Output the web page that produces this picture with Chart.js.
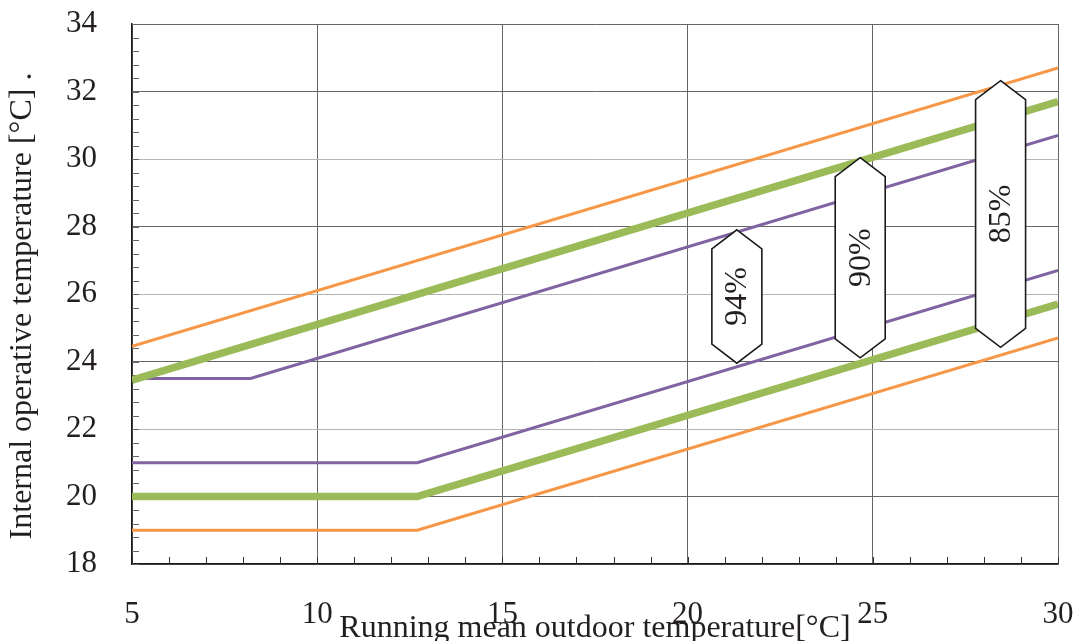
<!DOCTYPE html>
<html><head><meta charset="utf-8">
<script src="https://cdn.jsdelivr.net/npm/chart.js@4"></script>
<style>html,body{margin:0;padding:0;background:#fff}#wrap{width:1074px;height:641px;position:relative}</style>
</head><body><div id="wrap"><canvas id="c"></canvas></div>
<script>
// Data
const catIIIUpperX = [5, 30];        const catIIIUpperY = [24.45, 32.7];
const catIIUpperX  = [5, 30];        const catIIUpperY  = [23.45, 31.7];
const catIUpperX   = [5, 8.2, 30];   const catIUpperY   = [23.5, 23.5, 30.7];
const catILowerX   = [5, 12.7, 30];  const catILowerY   = [21, 21, 26.7];
const catIILowerX  = [5, 12.7, 30];  const catIILowerY  = [20, 20, 25.7];
const catIIILowerX = [5, 12.7, 30];  const catIIILowerY = [19, 19, 24.7];

const arrowLabels = ['94%', '90%', '85%'];
const arrowX    = [21.33, 24.66, 28.45];
const arrowLow  = [23.95, 24.11, 24.42];
const arrowHigh = [27.9, 30.04, 32.32];

const xTickValues = [5, 10, 15, 20, 25, 30];
const yTickValues = [18, 20, 22, 24, 26, 28, 30, 32, 34];

const xTitle = 'Running mean outdoor temperature[°C]';
const yTitle = 'Internal operative temperature [°C] .';

const pts = (xs, ys) => xs.map((v, i) => ({x: v, y: ys[i]}));
const FONT = "'Liberation Serif', 'Times New Roman', serif";
const ORANGE = '#F79646', GREEN = '#9BBB59', PURPLE = '#8064A2';

const ds = (data, color, w) => ({data, borderColor: color, borderWidth: w, pointRadius: 0, fill: false, tension: 0, showLine: true, borderCapStyle: 'butt', borderJoinStyle: 'miter'});

const noPad = s => { s.paddingTop = 0; s.paddingBottom = 0; s.paddingLeft = 0; s.paddingRight = 0; };

const minorTicks = {
  id: 'minorTicks',
  beforeDatasetsDraw(chart) {
    const {ctx, chartArea: a, scales: {x, y}} = chart;
    ctx.save();
    ctx.lineWidth = 1;
    ctx.strokeStyle = '#666';
    for (let v = 18; v <= 34.001; v += 0.4) {
      const py = Math.round(y.getPixelForValue(v)) + 0.5;
      ctx.beginPath(); ctx.moveTo(a.left, py); ctx.lineTo(a.left + 7, py); ctx.stroke();
    }
    ctx.strokeStyle = '#333';
    for (let v = 5; v <= 30.001; v += 1) {
      const px = Math.round(x.getPixelForValue(v)) + 0.5;
      ctx.beginPath(); ctx.moveTo(px, a.bottom); ctx.lineTo(px, a.bottom - 7); ctx.stroke();
    }
    ctx.restore();
  }
};

const arrows = {
  id: 'arrows',
  afterDatasetsDraw(chart) {
    const {ctx, scales: {x, y}} = chart;
    ctx.save();
    const hw = 25, hh = 19;
    arrowLabels.forEach((lab, i) => {
      const cx = x.getPixelForValue(arrowX[i]);
      const top = y.getPixelForValue(arrowHigh[i]);
      const bot = y.getPixelForValue(arrowLow[i]);
      ctx.beginPath();
      ctx.moveTo(cx, top);
      ctx.lineTo(cx + hw, top + hh);
      ctx.lineTo(cx + hw, bot - hh);
      ctx.lineTo(cx, bot);
      ctx.lineTo(cx - hw, bot - hh);
      ctx.lineTo(cx - hw, top + hh);
      ctx.closePath();
      ctx.fillStyle = '#fff';
      ctx.fill();
      ctx.lineWidth = 1.6;
      ctx.strokeStyle = '#1a1a1a';
      ctx.lineJoin = 'miter';
      ctx.stroke();
      ctx.save();
      ctx.translate(cx, (top + bot) / 2);
      ctx.rotate(-Math.PI / 2);
      ctx.fillStyle = '#231f20';
      ctx.font = '32px ' + FONT;
      ctx.textAlign = 'center';
      ctx.textBaseline = 'middle';
      ctx.fillText(lab, 0, 1);
      ctx.restore();
    });
    ctx.restore();
  }
};

new Chart(document.getElementById('c'), {
  type: 'scatter',
  data: {
    datasets: [
      ds(pts(catIIIUpperX, catIIIUpperY), ORANGE, 3),
      ds(pts(catIIUpperX, catIIUpperY), GREEN, 7.5),
      ds(pts(catIUpperX, catIUpperY), PURPLE, 3),
      ds(pts(catILowerX, catILowerY), PURPLE, 3),
      ds(pts(catIILowerX, catIILowerY), GREEN, 7.5),
      ds(pts(catIIILowerX, catIIILowerY), ORANGE, 3)
    ]
  },
  options: {
    responsive: true,
    maintainAspectRatio: false,
    animation: false,
    layout: {padding: {top: 24, right: 16, left: 0, bottom: 0}},
    plugins: {legend: {display: false}, tooltip: {enabled: false}},
    scales: {
      x: {
        type: 'linear', min: 5, max: 30,
        afterBuildTicks: s => { s.ticks = xTickValues.map(v => ({value: v})); },
        afterFit: s => { s.height = 77; noPad(s); },
        grid: {color: '#666', lineWidth: 1, drawTicks: false},
        border: {color: '#1a1a1a', width: 1.5},
        ticks: {padding: 32, color: '#231f20', font: {family: FONT, size: 31}, maxRotation: 0, autoSkip: false},
        title: {display: true, text: xTitle, color: '#231f20', font: {family: FONT, size: 32, lineHeight: 1}, padding: {top: 0, bottom: -4}}
      },
      y: {
        type: 'linear', min: 18, max: 34,
        afterBuildTicks: s => { s.ticks = yTickValues.map(v => ({value: v})); },
        afterFit: s => { s.width = 132; noPad(s); },
        grid: {
          color: c => ([22, 26, 30].includes(c.tick && c.tick.value) ? '#b4b4b4' : '#666'),
          lineWidth: 1, drawTicks: false
        },
        border: {color: '#1a1a1a', width: 1.5},
        ticks: {padding: 35, color: '#231f20', font: {family: FONT, size: 31}, autoSkip: false},
        title: {display: true, text: yTitle + '   ', color: '#231f20', font: {family: FONT, size: 32, lineHeight: 1.2}, padding: {top: 3, bottom: 0}}
      }
    }
  },
  plugins: [minorTicks, arrows]
});
</script>
</body></html>
